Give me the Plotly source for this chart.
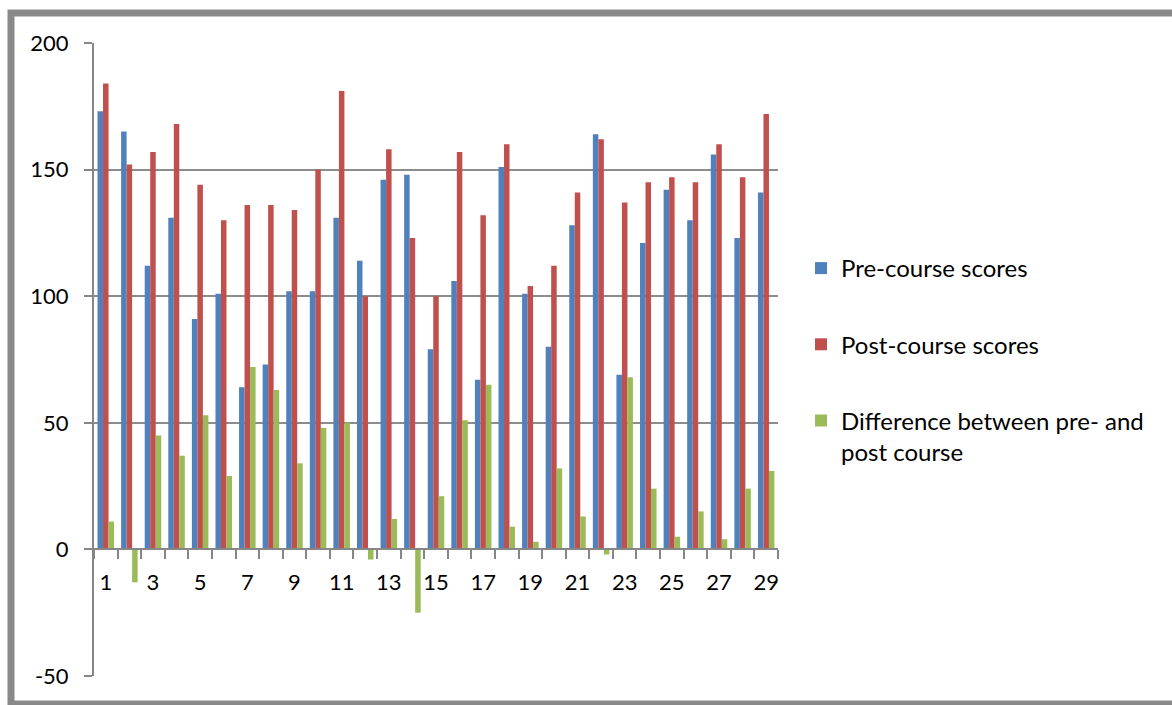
import plotly.graph_objects as go

participants = list(range(1, 30))
pre_scores = [173, 165, 112, 131, 91, 101, 64, 73, 102, 102,
              131, 114, 146, 148, 79, 106, 67, 151, 101, 80,
              128, 164, 69, 121, 142, 130, 156, 123, 141]
post_scores = [184, 152, 157, 168, 144, 130, 136, 136, 134, 150,
               181, 100, 158, 123, 100, 157, 132, 160, 104, 112,
               141, 162, 137, 145, 147, 145, 160, 147, 172]
difference = [11, -13, 45, 37, 53, 29, 72, 63, 34, 48,
              50, -4, 12, -25, 21, 51, 65, 9, 3, 32,
              13, -2, 68, 24, 5, 15, 4, 24, 31]
series_names = ["Pre-course scores", "Post-course scores",
                "Difference between pre- and<br>post course"]
series_colors = ["#4F81BD", "#C0504D", "#9BBB59"]
x_tick_labels = [str(p) for p in participants if p % 2 == 1]
y_tick_values = [-50, 0, 50, 100, 150, 200]
y_tick_labels = [str(v) for v in y_tick_values]

FONT = "Lato"
GRID = "#8C8C8C"
AXIS = "#868686"

fig = go.Figure()
for name, vals, col in zip(series_names, [pre_scores, post_scores, difference], series_colors):
    fig.add_trace(go.Bar(x=participants, y=vals, name=name, marker_color=col,
                         marker_line_width=0, legendgroup=name))

# boundary tick marks along x axis (overlay axis)
boundaries = [p - 0.5 for p in participants] + [participants[-1] + 0.5]

W, H = 1172, 705
L, R, T, B = 94, 1172 - 778, 43, 705 - 676
pw, ph = W - L - R, H - T - B

def px(x):
    return (x - L) / pw

def py(y):
    return (H - B - y) / ph

frame_path = "M {r},{t} L {l},{t} L {l},{b} L {r},{b}".format(
    r=px(1250), l=px(11), t=py(13), b=py(704))

fig.update_layout(
    width=W, height=H,
    margin=dict(l=L, r=R, t=T, b=B),
    paper_bgcolor="white", plot_bgcolor="white",
    barmode="group", bargap=0.3, bargroupgap=0,
    font=dict(family=FONT, size=22, color="#000000"),
    showlegend=True,
    legend=dict(x=px(801), y=py(246), xanchor="left", yanchor="top",
                font=dict(size=24, family=FONT), tracegroupgap=42,
                valign="top", bgcolor="rgba(0,0,0,0)", itemwidth=30),
    xaxis=dict(range=[0.5, 29.5], anchor="free", position=0.2,
               tickmode="array", tickvals=[int(t) for t in x_tick_labels],
               ticktext=x_tick_labels, ticks="", showgrid=False, zeroline=False,
               showline=True, linecolor=AXIS, linewidth=2,
               ticklabelstandoff=13, tickfont=dict(size=22)),
    xaxis2=dict(range=[0.5, 29.5], overlaying="x", anchor="free", position=0.2,
                tickmode="array", tickvals=boundaries, ticks="outside",
                ticklen=9, tickwidth=2, tickcolor=AXIS,
                showticklabels=False, showgrid=False, zeroline=False, showline=False),
    yaxis=dict(range=[-50, 200], tickmode="array", tickvals=y_tick_values,
               ticktext=y_tick_labels, showgrid=True, gridcolor=GRID,
               gridwidth=2, zeroline=False, showline=True, linecolor=AXIS,
               linewidth=2, ticks="outside", ticklen=8, tickwidth=2,
               tickcolor=AXIS, ticklabelstandoff=11, tickfont=dict(size=22)),
    shapes=[dict(type="path", xref="paper", yref="paper", path=frame_path,
                 line=dict(color="#898989", width=7), layer="below")],
)
# invisible trace to activate the boundary-tick axis
fig.add_trace(go.Scatter(x=[boundaries[0], boundaries[-1]], y=[None, None], xaxis="x2",
                         showlegend=False, hoverinfo="skip"))

fig.write_html("out.html", config={"displayModeBar": False},
               post_script="document.body.style.margin='0';document.body.style.overflow='hidden';")
